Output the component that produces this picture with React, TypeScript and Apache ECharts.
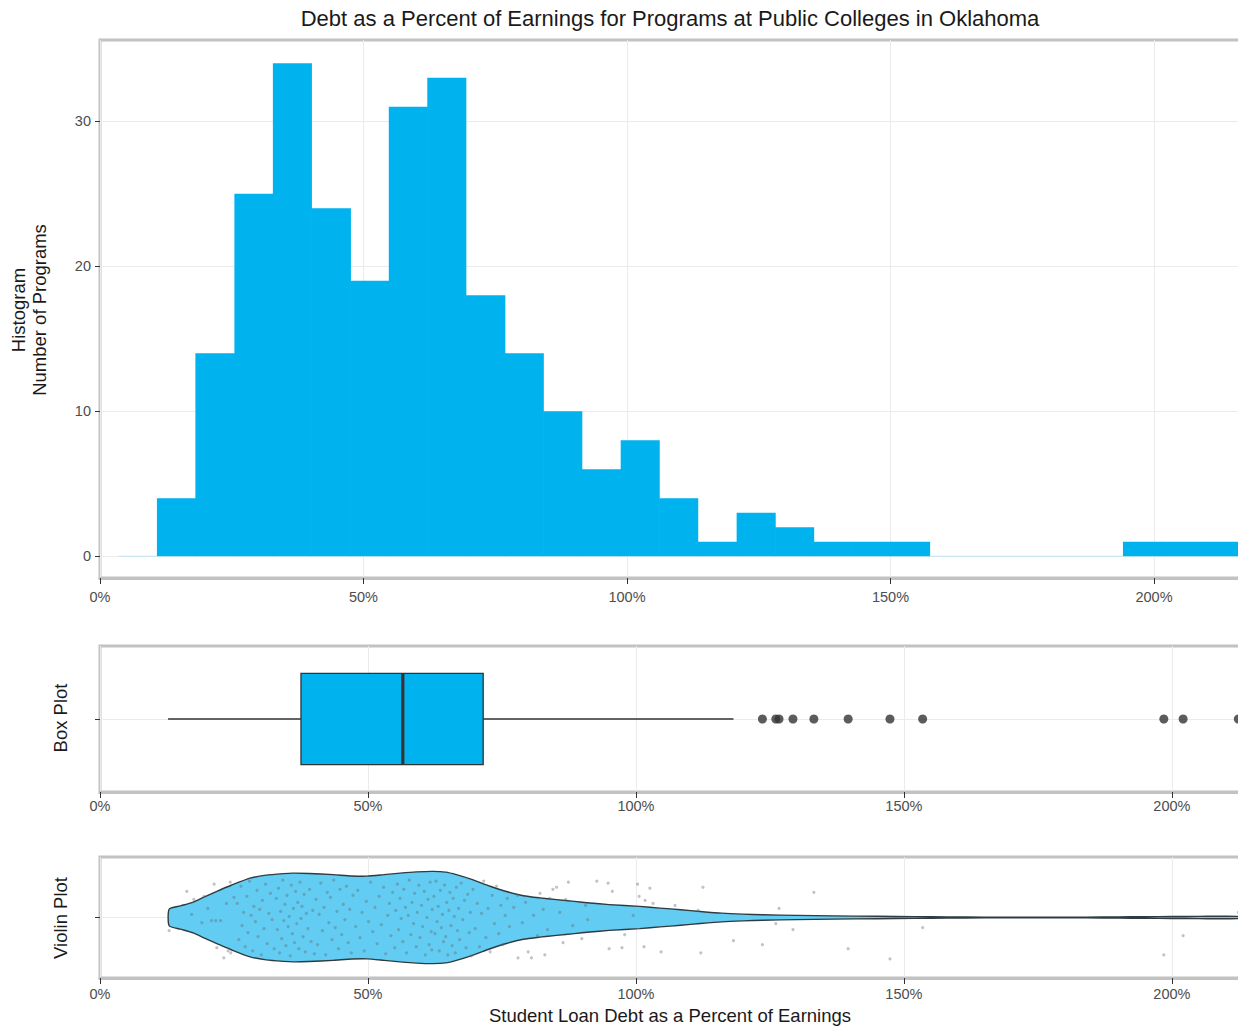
import React, { useEffect, useRef } from 'react';
import * as echarts from 'echarts';

const TITLE = 'Debt as a Percent of Earnings for Programs at Public Colleges in Oklahoma';
const X_TITLE = 'Student Loan Debt as a Percent of Earnings';
const HIST_TITLE = 'Histogram\nNumber of Programs';
const BOX_TITLE = 'Box Plot';
const VIOLIN_TITLE = 'Violin Plot';

// Histogram bins (percent of earnings) and program counts per bin
const binEdges = [
  3.5, 10.8, 18.1, 25.5, 32.8, 40.1, 47.5, 54.8, 62.1, 69.4, 76.8, 84.1, 91.4, 98.8, 106.1,
  113.4, 120.8, 128.1, 135.4, 142.7, 150.1, 157.4, 164.7, 172.1, 179.4, 186.7, 194.1, 201.4,
  208.7, 216.0,
];
const binCounts = [0, 4, 14, 25, 34, 24, 19, 31, 33, 18, 14, 10, 6, 8, 4, 1, 3, 2, 1, 1, 1, 0, 0, 0, 0, 0, 1, 1, 1];
const histTicks = [0, 10, 20, 30];

// Box plot: lower whisker, Q1, median, Q3, upper whisker; then outliers
const boxStats = [12.7, 37.5, 56.5, 71.5, 118.2];
const boxOutliers = [123.6, 126.1, 126.7, 129.3, 133.2, 139.6, 147.4, 153.5, 198.5, 202.1, 212.4];

// Violin outline: position and half-width of the density
const violinX = [
  12.9, 15.0, 17.4, 19.5, 21.8, 24.5, 28.0, 31.0, 34.2, 36.0, 39.0, 43.5, 47.0, 49.8, 53.0, 56.0,
  59.0, 62.1, 64.5, 66.5, 69.5, 72.8, 76.0, 79.0, 82.0, 85.2, 88.5, 91.4, 95.0, 100.7, 104.5,
  108.4, 112.0, 116.0, 120.0, 123.7, 130.0, 137.0, 145.0, 152.0, 158.0, 165.0, 172.0, 178.0,
  184.0, 190.0, 195.0, 200.0, 205.0, 212.4,
];
const violinHalfWidth = [
  0.082, 0.115, 0.153, 0.205, 0.26, 0.32, 0.39, 0.42, 0.435, 0.44, 0.437, 0.425, 0.412, 0.41,
  0.425, 0.44, 0.452, 0.457, 0.45, 0.425, 0.375, 0.31, 0.255, 0.216, 0.195, 0.177, 0.16, 0.144,
  0.128, 0.11, 0.093, 0.077, 0.06, 0.043, 0.033, 0.027, 0.021, 0.016, 0.012, 0.009, 0.006, 0.004,
  0.003, 0.003, 0.004, 0.006, 0.008, 0.01, 0.011, 0.011,
];

// Individual programs, jittered vertically over the violin
const jitterPoints = [
  [12.9, -0.13], [16.2, 0.26], [17.1, 0.03], [17.5, 0.18],
  [19.0, -0.05], [19.4, 0.21], [20.1, 0.09], [20.8, -0.03], [21.3, 0.33], [21.6, -0.03], [21.8, -0.3],
  [22.5, -0.03], [23.1, -0.4], [23.6, 0.14], [23.9, -0.33], [24.3, 0.35], [24.4, -0.35], [25.0, 0.2],
  [25.6, 0.14], [25.9, -0.22], [26.3, 0.31], [26.5, -0.08], [26.8, 0.05], [27.1, -0.29], [27.4, 0.21],
  [27.6, -0.15], [27.9, 0.36], [28.2, 0.02], [28.5, -0.33], [28.7, 0.11], [29.0, -0.04], [29.3, 0.27],
  [29.5, -0.19], [29.8, 0.08], [30.1, -0.37], [30.3, 0.17], [30.6, -0.11], [30.9, 0.33], [31.2, -0.26],
  [31.5, 0.04], [31.8, 0.24], [32.1, -0.02], [32.5, -0.31],
  [32.9, 0.19], [33.1, -0.12], [33.3, 0.29], [33.5, -0.35], [33.7, 0.06], [33.9, -0.21], [34.1, 0.37],
  [34.3, -0.03], [34.5, 0.13], [34.7, -0.28], [34.9, 0.22], [35.1, -0.09], [35.3, 0.01], [35.5, -0.38],
  [35.7, 0.32], [35.9, -0.16], [36.1, 0.09], [36.3, -0.25], [36.5, 0.26], [36.7, -0.06], [36.9, 0.15],
  [37.1, -0.31], [37.3, 0.35], [37.5, -0.01], [37.7, 0.11], [37.9, -0.19], [38.1, 0.23], [38.3, -0.34],
  [38.5, 0.04], [38.8, -0.11], [39.1, 0.28], [39.4, -0.24], [39.7, 0.07], [40.0, -0.36],
  [40.3, 0.18], [40.6, -0.27], [40.9, 0.03], [41.2, 0.34], [41.5, -0.13], [41.8, 0.1], [42.1, -0.37],
  [42.4, 0.25], [42.7, -0.05], [43.0, 0.2], [43.3, -0.22], [43.6, 0.37], [43.9, -0.1], [44.2, 0.06],
  [44.5, -0.31], [44.8, 0.28], [45.1, -0.17], [45.4, 0.13], [45.7, -0.02], [46.0, 0.31], [46.3, -0.25],
  [46.6, 0.08], [46.9, -0.35], [47.2, 0.22],
  [47.7, -0.09], [48.1, 0.27], [48.5, -0.2], [48.9, 0.05], [49.3, -0.33], [49.7, 0.16], [50.1, -0.04],
  [50.5, 0.35], [50.9, -0.14], [51.3, 0.1], [51.7, -0.26], [52.1, 0.21], [52.5, -0.07], [52.9, 0.3],
  [53.3, -0.36], [53.7, 0.02], [54.0, 0.14], [54.3, -0.18], [54.6, 0.25],
  [55.0, -0.3], [55.2, 0.07], [55.5, 0.33], [55.7, -0.12], [56.0, 0.19], [56.2, -0.01], [56.5, -0.24],
  [56.7, 0.28], [57.0, 0.1], [57.2, -0.35], [57.5, 0.02], [57.7, 0.37], [58.0, -0.17], [58.2, 0.15],
  [58.5, -0.06], [58.7, 0.24], [59.0, -0.29], [59.2, 0.05], [59.5, 0.32], [59.7, -0.2], [60.0, 0.12],
  [60.2, -0.09], [60.5, 0.26], [60.7, -0.37], [61.0, 0.0], [61.2, 0.18], [61.4, -0.27], [61.6, 0.35],
  [61.8, -0.14], [62.0, 0.08], [61.9, -0.32],
  [62.3, 0.21], [62.5, -0.16], [62.7, 0.36], [62.9, -0.04], [63.1, 0.11], [63.3, -0.33], [63.5, 0.27],
  [63.7, -0.1], [63.9, 0.03], [64.1, -0.24], [64.3, 0.32], [64.5, -0.19], [64.7, 0.15], [64.9, -0.37],
  [65.1, 0.07], [65.3, 0.25], [65.5, -0.08], [65.7, -0.28], [65.9, 0.19], [66.1, 0.01], [66.3, -0.35],
  [66.5, 0.3], [66.7, -0.13], [66.9, 0.09], [67.1, -0.22], [67.4, 0.34], [67.7, -0.02], [68.0, 0.17],
  [68.3, -0.3], [68.6, 0.23], [68.9, -0.15], [69.1, 0.05], [69.3, -0.38],
  [69.6, 0.28], [70.0, -0.11], [70.4, 0.14], [70.8, -0.29], [71.2, 0.04], [71.6, 0.36], [72.0, -0.2],
  [72.4, 0.09], [72.8, -0.34], [73.2, 0.22], [73.6, -0.06], [74.0, 0.31], [74.4, -0.16], [74.8, 0.12],
  [75.2, -0.27], [75.6, 0.02], [76.0, 0.19], [76.4, -0.09],
  [77.2, 0.1], [77.9, 0.22], [78.0, -0.4], [78.8, -0.05], [79.4, 0.15], [79.9, -0.34], [80.5, -0.4],
  [80.9, 0.02], [81.6, -0.18], [82.1, 0.24], [82.7, 0.08], [83.0, -0.37], [83.5, -0.12], [83.9, 0.19],
  [84.5, 0.28], [85.2, 0.3], [85.8, 0.05], [86.4, -0.25], [86.9, 0.18], [87.4, 0.35], [88.2, -0.08],
  [89.9, -0.21], [90.6, 0.12], [91.0, -0.02],
  [92.7, 0.36], [94.8, 0.34], [95.0, -0.31], [95.6, 0.26], [97.4, -0.3], [97.9, -0.17],
  [99.5, 0.02], [100.3, 0.33], [100.6, 0.21], [101.5, -0.29], [101.7, 0.17], [102.6, 0.29], [103.2, 0.14],
  [104.7, -0.34],
  [107.3, 0.12], [111.6, 0.07], [112.1, -0.35], [112.5, 0.3],
  [118.2, -0.23], [123.6, -0.27], [126.1, -0.06], [126.7, 0.09], [129.3, -0.12], [133.2, 0.25],
  [139.6, -0.31], [147.4, -0.41], [153.5, -0.1], [198.5, -0.37], [202.1, -0.18], [212.4, 0.05],
];

const FONT = '"Liberation Sans", Arial, "DejaVu Sans", sans-serif';
const BAR = '#00B2EE';
const VIOLIN_FILL = '#63CCF2';
const DARK = '#333333';
const BORDER = '#c2c2c2';
const GRIDLINE = '#ebebeb';
const TICK_TEXT = '#4d4d4d';

const W = 1238;
const H = 1027;
const PLOT_LEFT = 100;
const PLOT_WIDTH = 1141;

const pctLabel = (v: number) => (v % 50 === 0 ? `${v}%` : '');

function pctAxis(gridIndex: number, max: number, margin: number) {
  return {
    type: 'value',
    gridIndex,
    min: 0,
    max,
    interval: 50,
    axisLine: { show: true, onZero: false, lineStyle: { color: BORDER, width: 3 } },
    axisTick: { show: true, length: 6, lineStyle: { color: DARK, width: 1 } },
    axisLabel: { color: TICK_TEXT, fontSize: 14.5, fontFamily: FONT, margin, formatter: pctLabel },
    splitLine: { show: true, lineStyle: { color: GRIDLINE, width: 1 } },
  };
}

function bandAxis(gridIndex: number) {
  return {
    type: 'value',
    gridIndex,
    min: -0.6,
    max: 0.6,
    splitNumber: 1,
    axisLine: { show: false },
    axisTick: { show: true, length: 5, customValues: [0], lineStyle: { color: DARK, width: 1 } },
    axisLabel: { show: false },
    splitLine: { show: true, lineStyle: { color: GRIDLINE, width: 1 } },
  };
}

function panel(top: number, height: number) {
  return {
    left: PLOT_LEFT,
    top,
    width: PLOT_WIDTH,
    height,
    show: true,
    borderColor: BORDER,
    borderWidth: 3,
    containLabel: false,
    outerBoundsMode: 'none',
  };
}

function buildOption() {
  const histData = binCounts.map((c, i) => [binEdges[i], binEdges[i + 1], c]);

  return {
    animation: false,
    backgroundColor: '#ffffff',
    grid: [panel(40, 538), panel(646, 146), panel(857, 121)],
    xAxis: [pctAxis(0, 216.5, 11), pctAxis(1, 212.9, 6), pctAxis(2, 212.9, 8)],
    yAxis: [
      {
        type: 'value',
        gridIndex: 0,
        min: -1.5,
        max: 35.6,
        splitNumber: 4,
        axisLine: { show: false },
        axisTick: { show: true, length: 5, customValues: histTicks, lineStyle: { color: DARK, width: 1 } },
        axisLabel: {
          color: TICK_TEXT,
          fontSize: 14.5,
          fontFamily: FONT,
          margin: 9,
          customValues: histTicks,
          formatter: (v: number) => String(v),
        },
        splitLine: { show: true, lineStyle: { color: GRIDLINE, width: 1 } },
      },
      bandAxis(1),
      bandAxis(2),
    ],
    graphic: [
      {
        type: 'text',
        x: 670,
        y: 18,
        style: { text: TITLE, fontSize: 22, fontFamily: FONT, fill: '#1a1a1a', align: 'center', verticalAlign: 'middle' },
      },
      {
        type: 'text',
        x: 29,
        y: 310,
        rotation: Math.PI / 2,
        style: {
          text: HIST_TITLE,
          fontSize: 18.5,
          lineHeight: 21,
          fontFamily: FONT,
          fill: '#1a1a1a',
          align: 'center',
          verticalAlign: 'middle',
        },
      },
      {
        type: 'text',
        x: 60,
        y: 718,
        rotation: Math.PI / 2,
        style: { text: BOX_TITLE, fontSize: 18.5, fontFamily: FONT, fill: '#1a1a1a', align: 'center', verticalAlign: 'middle' },
      },
      {
        type: 'text',
        x: 60,
        y: 918,
        rotation: Math.PI / 2,
        style: { text: VIOLIN_TITLE, fontSize: 18.5, fontFamily: FONT, fill: '#1a1a1a', align: 'center', verticalAlign: 'middle' },
      },
      {
        type: 'text',
        x: 670,
        y: 1015,
        style: { text: X_TITLE, fontSize: 18.5, fontFamily: FONT, fill: '#1a1a1a', align: 'center', verticalAlign: 'middle' },
      },
    ],
    series: [
      {
        type: 'custom',
        name: 'histogram',
        xAxisIndex: 0,
        yAxisIndex: 0,
        data: histData,
        encode: { x: [0, 1], y: 2 },
        clip: true,
        renderItem: (_params: any, api: any) => {
          const x0 = api.value(0);
          const x1 = api.value(1);
          const c = api.value(2);
          const top = api.coord([x0, c]);
          const base = api.coord([x1, 0]);
          if (c === 0) {
            return {
              type: 'line',
              shape: { x1: top[0], y1: base[1], x2: base[0], y2: base[1] },
              style: { stroke: '#bfe6f5', lineWidth: 1 },
            };
          }
          return {
            type: 'rect',
            shape: { x: top[0], y: top[1], width: base[0] - top[0] + 0.6, height: base[1] - top[1] },
            style: { fill: BAR },
          };
        },
      },
      {
        type: 'custom',
        name: 'box',
        xAxisIndex: 1,
        yAxisIndex: 1,
        data: [boxStats],
        encode: { x: [0, 1, 2, 3, 4] },
        renderItem: (_params: any, api: any) => {
          const lo = api.value(0);
          const q1 = api.value(1);
          const med = api.value(2);
          const q3 = api.value(3);
          const hi = api.value(4);
          const yMid = api.coord([0, 0])[1];
          const yTop = api.coord([0, 0.375])[1];
          const yBot = api.coord([0, -0.375])[1];
          const xLo = api.coord([lo, 0])[0];
          const xQ1 = api.coord([q1, 0])[0];
          const xMed = api.coord([med, 0])[0];
          const xQ3 = api.coord([q3, 0])[0];
          const xHi = api.coord([hi, 0])[0];
          const line = { stroke: DARK, lineWidth: 1.3 };
          return {
            type: 'group',
            children: [
              { type: 'line', shape: { x1: xLo, y1: yMid, x2: xQ1, y2: yMid }, style: line },
              { type: 'line', shape: { x1: xQ3, y1: yMid, x2: xHi, y2: yMid }, style: line },
              {
                type: 'rect',
                shape: { x: xQ1, y: yTop, width: xQ3 - xQ1, height: yBot - yTop },
                style: { fill: BAR, stroke: DARK, lineWidth: 1.3 },
              },
              { type: 'line', shape: { x1: xMed, y1: yTop, x2: xMed, y2: yBot }, style: { stroke: DARK, lineWidth: 3.2 } },
            ],
          };
        },
      },
      {
        type: 'scatter',
        name: 'outliers',
        xAxisIndex: 1,
        yAxisIndex: 1,
        data: boxOutliers.map((v) => [v, 0]),
        symbol: 'circle',
        symbolSize: 9,
        itemStyle: { color: DARK },
        silent: true,
      },
      {
        type: 'custom',
        name: 'violin',
        xAxisIndex: 2,
        yAxisIndex: 2,
        data: [[violinX[0], 0]],
        encode: { x: 0, y: 1 },
        clip: true,
        renderItem: (_params: any, api: any) => {
          const upper = violinX.map((x, i) => api.coord([x, violinHalfWidth[i]]));
          const lower = violinX.map((x, i) => api.coord([x, -violinHalfWidth[i]])).reverse();
          return {
            type: 'polygon',
            shape: { points: upper.concat(lower), smooth: 0.2 },
            style: { fill: VIOLIN_FILL, stroke: '#2f3b40', lineWidth: 1.4 },
          };
        },
      },
      {
        type: 'scatter',
        name: 'programs',
        xAxisIndex: 2,
        yAxisIndex: 2,
        data: jitterPoints,
        symbol: 'circle',
        symbolSize: 3.2,
        itemStyle: { color: 'rgba(100,105,110,0.5)' },
        silent: true,
      },
    ],
  };
}

export default function App() {
  const ref = useRef<HTMLDivElement>(null);

  useEffect(() => {
    document.body.style.margin = '0';
    if (!ref.current) return;
    const chart = echarts.init(ref.current, undefined, { renderer: 'svg', width: W, height: H });
    chart.setOption(buildOption() as any);
    return () => {
      chart.dispose();
    };
  }, []);

  return <div ref={ref} style={{ position: 'absolute', left: 0, top: 0, width: W, height: H, background: '#fff' }} />;
}
